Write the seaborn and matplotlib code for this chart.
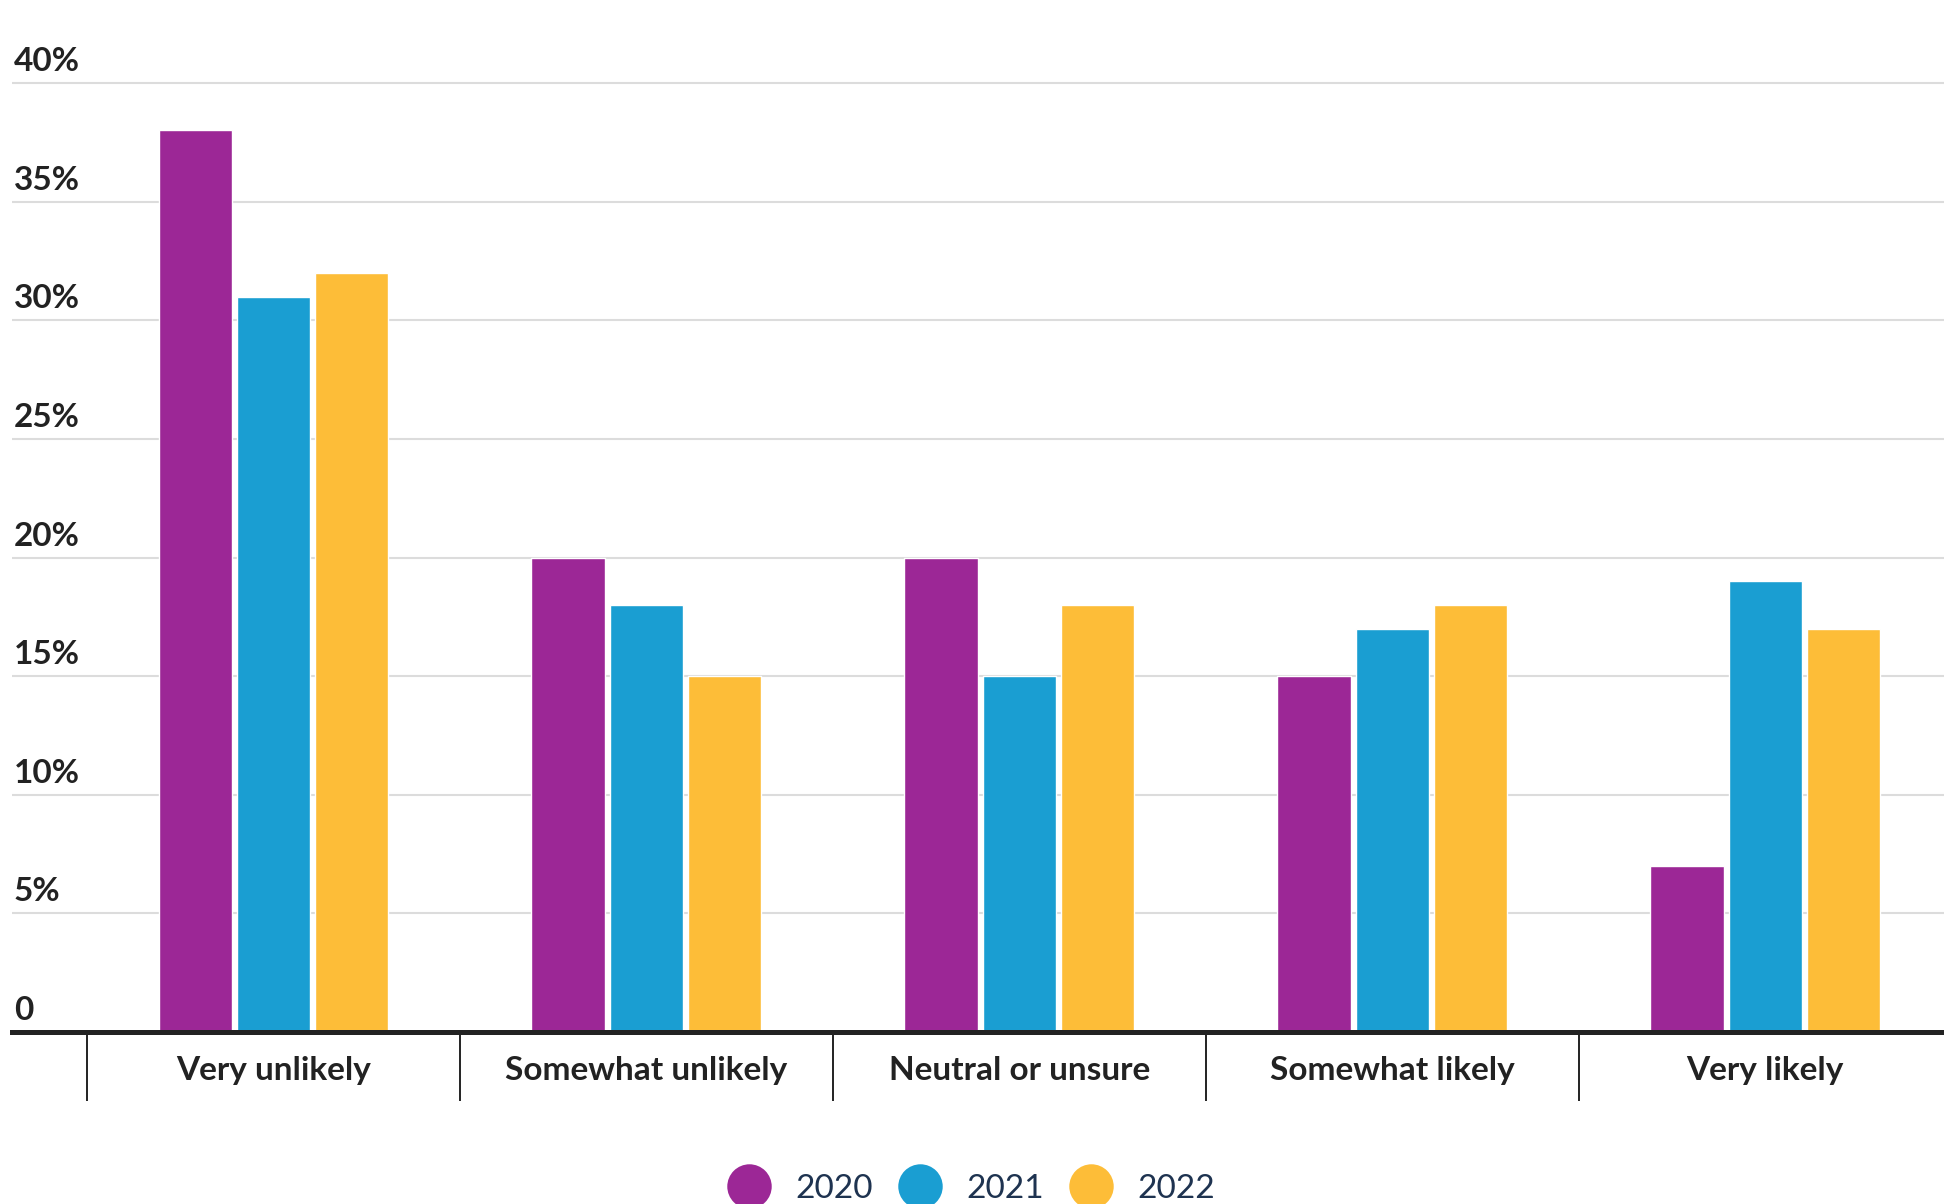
import numpy as np
import pandas as pd
import matplotlib
matplotlib.use("Agg")
import matplotlib.pyplot as plt
import matplotlib.transforms as mtransforms
from matplotlib.lines import Line2D
import seaborn as sns

categories = ["Very unlikely", "Somewhat unlikely", "Neutral or unsure", "Somewhat likely", "Very likely"]
years = ["2020", "2021", "2022"]
values_2020 = [38, 20, 20, 15, 7]
values_2021 = [31, 18, 15, 17, 19]
values_2022 = [32, 15, 18, 18, 17]
y_ticks = [0, 5, 10, 15, 20, 25, 30, 35, 40]
y_tick_labels = ["0", "5%", "10%", "15%", "20%", "25%", "30%", "35%", "40%"]
colors = ["#9C2796", "#1A9ED2", "#FDBD38"]

rows = []
for yr, vals in zip(years, [values_2020, values_2021, values_2022]):
    for c, v in zip(categories, vals):
        rows.append({"category": c, "year": yr, "value": v})
df = pd.DataFrame(rows)

sns.set_theme(style="white")
plt.rcParams["font.family"] = ["Lato", "DejaVu Sans"]

W, H = 1944, 1204
fig = plt.figure(figsize=(W / 100, H / 100), dpi=100)
ax_left = 12 / W
ax_bottom = 1 - 1032 / H
ax_top = 1 - 59.3 / H
ax = fig.add_axes([ax_left, ax_bottom, 1 - ax_left, ax_top - ax_bottom])

sns.barplot(data=df, x="category", y="value", hue="year", order=categories,
            hue_order=years, palette=colors, width=0.63, gap=0.065,
            saturation=1, legend=False, ax=ax, zorder=2)

ax.set_xlabel("")
ax.set_ylabel("")

# gridlines
for yv in y_ticks[1:]:
    ax.axhline(yv, color="#dcdcdc", lw=1.5, zorder=1)

for s in ["top", "right", "left"]:
    ax.spines[s].set_visible(False)
ax.spines["bottom"].set_color("#222222")
ax.spines["bottom"].set_linewidth(3.6)
ax.spines["bottom"].set_zorder(3)

# x ticks
ax.set_xticks(range(len(categories)))
ax.set_xticklabels(categories, fontsize=24, fontweight="bold", color="#222222")
ax.set_xticks(np.arange(-0.5, len(categories) - 1, 1), minor=True)
ax.tick_params(axis="x", which="major", length=0, pad=17)
ax.tick_params(axis="x", which="minor", length=50, width=1.4, color="#222222",
               direction="out", bottom=True)

# y ticks: labels above the gridlines, left aligned
ax.set_yticks(y_ticks)
ax.set_yticklabels(y_tick_labels, fontsize=24, fontweight="bold", color="#222222")
ax.tick_params(axis="y", length=0, pad=0)
offset = mtransforms.ScaledTranslation(0.02, 0.07, fig.dpi_scale_trans)
for lab in ax.get_yticklabels():
    lab.set_horizontalalignment("left")
    lab.set_verticalalignment("bottom")
    lab.set_transform(lab.get_transform() + offset)

ax.set_ylim(0, 41)
ax.set_xlim(-0.701, 4.479)

# legend
handles = [Line2D([0], [0], marker="o", color="none", markerfacecolor=c,
                  markeredgecolor="none", markersize=32) for c in colors]
fig.legend(handles, years, loc="center", bbox_to_anchor=(0.5, 1 - 1189 / H),
           ncol=3, frameon=False, fontsize=24, handlelength=1.2,
           handletextpad=0.8, columnspacing=0.8, labelcolor="#1e3350")

fig.savefig("out.png", dpi=100)
